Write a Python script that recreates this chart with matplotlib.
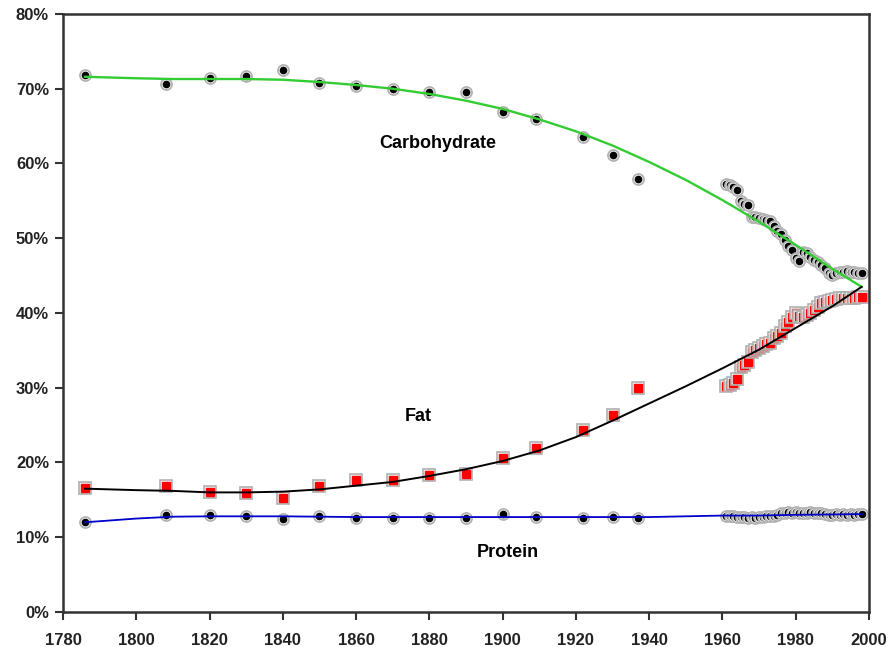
import numpy as np
import matplotlib.pyplot as plt

plt.rcParams['font.family'] = ['Liberation Sans', 'DejaVu Sans']

# historical points
hist_years = [1786, 1808, 1820, 1830, 1840, 1850, 1860, 1870, 1880, 1890,
              1900, 1909, 1922, 1930, 1937]
hist_carb = [71.8, 70.6, 71.4, 71.7, 72.5, 70.8, 70.4, 70.0, 69.6, 69.6,
             66.9, 66.0, 63.5, 61.1, 57.9]
hist_fat = [16.6, 16.8, 16.1, 15.9, 15.3, 16.9, 17.6, 17.7, 18.3, 18.5,
            20.6, 21.9, 24.3, 26.4, 29.9]
hist_prot = [12.1, 13.0, 13.0, 12.8, 12.5, 12.8, 12.6, 12.6, 12.6, 12.6,
             13.1, 12.7, 12.6, 12.7, 12.6]

# yearly points 1961-1998
mod_years = list(range(1961, 1999))
mod_carb = [57.2, 57.1, 56.9, 56.5, 55.0, 54.6, 54.4, 52.9, 52.8, 52.7,
            52.6, 52.4, 52.3, 51.6, 51.0, 50.5, 49.8, 49.0, 48.4, 47.3,
            47.0, 48.2, 48.0, 47.5, 47.1, 46.8, 46.4, 46.0, 45.4, 45.1,
            45.3, 45.5, 45.5, 45.6, 45.5, 45.5, 45.4, 45.4]
mod_fat = [30.2, 30.4, 30.6, 31.2, 32.8, 33.1, 33.5, 34.8, 35.0, 35.3,
           35.6, 35.8, 36.0, 36.6, 36.9, 37.3, 38.2, 38.8, 39.5, 40.0,
           39.6, 39.5, 39.7, 40.0, 40.4, 40.8, 41.3, 41.5, 41.6, 41.7,
           41.9, 42.0, 42.0, 42.0, 42.0, 42.0, 42.1, 42.1]
mod_prot = [12.9, 12.8, 12.8, 12.7, 12.7, 12.7, 12.6, 12.7, 12.6, 12.7,
            12.7, 12.8, 12.8, 12.9, 13.0, 13.2, 13.3, 13.4, 13.3, 13.4,
            13.3, 13.2, 13.3, 13.4, 13.3, 13.2, 13.3, 13.1, 13.0, 13.0,
            13.1, 13.0, 13.1, 13.0, 13.1, 13.0, 13.1, 13.1]

# fitted trend lines
fit_years = [1786, 1800, 1810, 1820, 1830, 1840, 1850, 1860, 1870, 1880,
             1890, 1900, 1910, 1920, 1930, 1940, 1950, 1960, 1970, 1980,
             1990, 1998]
fit_carb = [71.6, 71.4, 71.3, 71.3, 71.3, 71.2, 70.9, 70.5, 70.0, 69.3,
            68.4, 67.3, 65.9, 64.3, 62.4, 60.2, 57.8, 55.1, 52.2, 49.1,
            45.9, 43.5]
fit_fat = [16.5, 16.3, 16.2, 16.0, 16.0, 16.1, 16.4, 16.9, 17.4, 18.2,
           19.1, 20.2, 21.6, 23.4, 25.6, 27.9, 30.2, 32.6, 35.1, 38.0,
           40.9, 43.5]
fit_prot = [12.0, 12.5, 12.75, 12.8, 12.8, 12.8, 12.75, 12.7, 12.7, 12.7,
            12.7, 12.7, 12.7, 12.7, 12.7, 12.7, 12.8, 12.9, 12.9, 13.0,
            13.05, 13.1]

years = hist_years + mod_years
carb = hist_carb + mod_carb
fat = hist_fat + mod_fat
prot = hist_prot + mod_prot

fig = plt.figure(figsize=(8.9, 6.47), dpi=100)
ax = fig.add_axes([0.0708, 0.0541, 0.9056, 0.9243])

# markers drawn one by one so later halos overlap earlier points
halo = dict(mfc='#f2f2f2', mec='#b0b0b0', mew=1.2, zorder=2)
for x, y in zip(years, carb):
    ax.plot(x, y, 'o', ms=8, **halo)
    ax.plot(x, y, 'o', ms=4.5, color='black', zorder=2)
for x, y in zip(years, prot):
    ax.plot(x, y, 'o', ms=8, **halo)
    ax.plot(x, y, 'o', ms=4.5, color='black', zorder=2)
for x, y in zip(years, fat):
    ax.plot(x, y, 's', ms=8, **halo)
    ax.plot(x, y, 's', ms=5.5, color='#ff0000', zorder=2)

ax.plot(fit_years, fit_carb, color='#33cc33', lw=1.7, zorder=5)
ax.plot(fit_years, fit_fat, color='black', lw=1.4, zorder=5)
ax.plot(fit_years, fit_prot, color='#0000cc', lw=1.3, zorder=5)

ax.text(1882.3, 62.7, 'Carbohydrate', ha='center', va='center',
        fontsize=13, fontweight='bold')
ax.text(1877, 26.1, 'Fat', ha='center', va='center',
        fontsize=13, fontweight='bold')
ax.text(1901.5, 7.9, 'Protein', ha='center', va='center',
        fontsize=13, fontweight='bold')

ax.set_xlim(1780, 2000)
ax.set_ylim(0, 80)
ax.set_xticks(range(1780, 2001, 20))
ax.set_yticks(range(0, 81, 10))
ax.set_yticklabels([f'{v}%' for v in range(0, 81, 10)])
ax.tick_params(direction='out', length=6, width=1.5, color='#333333',
               labelsize=12, pad=4)
ax.tick_params(axis='x', pad=9)
for lab in ax.get_xticklabels() + ax.get_yticklabels():
    lab.set_fontweight('bold')
    lab.set_color('#222222')
for s in ax.spines.values():
    s.set_linewidth(1.8)
    s.set_color('#333333')

fig.savefig('out.png', dpi=100)
plt.close('all')
